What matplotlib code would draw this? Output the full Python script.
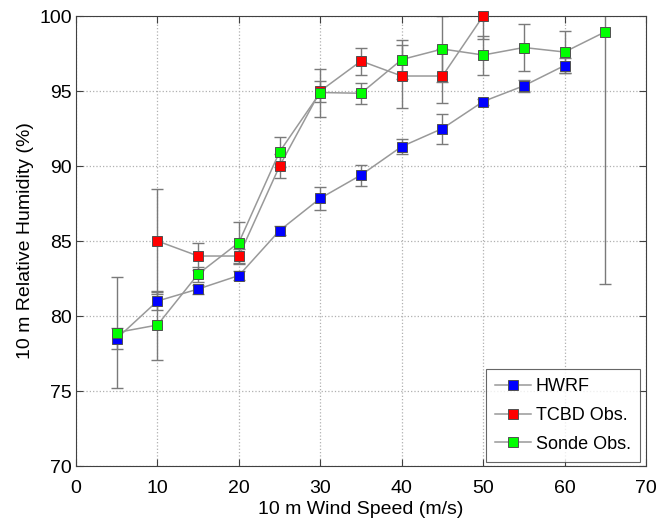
import matplotlib
matplotlib.use("Agg")
import matplotlib.pyplot as plt

plt.rcParams['font.family'] = ['Liberation Sans', 'DejaVu Sans']

hwrf_x = [5, 10, 15, 20, 25, 30, 35, 40, 45, 50, 55, 60]
hwrf_y = [78.5, 81.0, 81.8, 82.7, 85.7, 87.85, 89.4, 91.3, 92.5, 94.3, 95.35, 96.7]
hwrf_e = [0.7, 0.6, 0.3, 0.3, 0.3, 0.75, 0.7, 0.5, 1.0, 0.2, 0.4, 0.5]

tcbd_x = [10, 15, 20, 25, 30, 35, 40, 45, 50]
tcbd_y = [85.0, 84.0, 84.0, 90.0, 95.0, 97.0, 96.0, 96.0, 100.0]
tcbd_e = [3.5, 0.9, 0.5, 0.8, 0.7, 0.9, 2.1, 1.8, 1.5]

sonde_x = [5, 10, 15, 20, 25, 30, 35, 40, 45, 50, 55, 60, 65]
sonde_y = [78.9, 79.4, 82.8, 84.9, 90.95, 94.9, 94.85, 97.1, 97.8, 97.4, 97.9, 97.6, 98.95]
sonde_e = [3.7, 2.3, 0.5, 1.35, 1.0, 1.6, 0.7, 1.3, 2.2, 1.3, 1.55, 1.4, 16.8]

fig = plt.figure(figsize=(6.6, 5.2), dpi=100)
ax = fig.add_axes([0.1152, 0.1038, 0.8636, 0.8654])

series = [
    (hwrf_x, hwrf_y, hwrf_e, '#0000ff', 'HWRF'),
    (tcbd_x, tcbd_y, tcbd_e, '#ff0000', 'TCBD Obs.'),
    (sonde_x, sonde_y, sonde_e, '#00ff00', 'Sonde Obs.'),
]
for xs, ys, es, c, lab in series:
    ax.errorbar(xs, ys, yerr=es, fmt='none', ecolor='#7a7a7a', elinewidth=1.0,
                capsize=4, capthick=1.0, zorder=2)
    ax.plot(xs, ys, '-', color='#999999', lw=1.1, marker='s', markersize=7.5,
            markerfacecolor=c, markeredgecolor='#505050', markeredgewidth=0.7,
            label=lab, zorder=3, clip_on=False)

ax.set_xlim(0, 70)
ax.set_ylim(70, 100)
ax.set_xticks(range(0, 71, 10))
ax.set_yticks(range(70, 101, 5))
ax.grid(True, linestyle=':', color='#b0b0b0', linewidth=0.9)
ax.tick_params(direction='in', top=True, right=True, labelsize=14, length=5,
               color='#404040')
ax.tick_params(axis='x', pad=10)
ax.tick_params(axis='y', pad=3)
for s in ax.spines.values():
    s.set_color('#404040')
    s.set_linewidth(0.8)

ax.set_xlabel('10 m Wind Speed (m/s)', fontsize=14, labelpad=3)
ax.set_ylabel('10 m Relative Humidity (%)', fontsize=14, labelpad=4)

leg = ax.legend(loc='lower right', bbox_to_anchor=(0.989, 0.0096), fontsize=13,
                frameon=True, fancybox=False, edgecolor='#404040',
                borderpad=0.5, labelspacing=0.65, handlelength=2.0,
                handletextpad=0.25, borderaxespad=0)
leg.get_frame().set_linewidth(0.8)

fig.savefig('out.png', dpi=100)
